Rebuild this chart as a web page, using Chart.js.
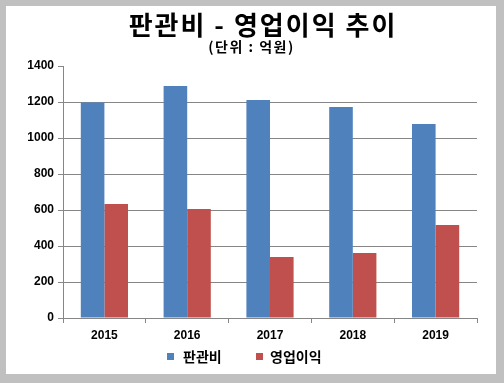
<!DOCTYPE html>
<html><head><meta charset="utf-8">
<script src="https://cdn.jsdelivr.net/npm/chart.js@4/dist/chart.umd.min.js"></script>
<style>
html,body{margin:0;padding:0;background:#c0c0c0;width:504px;height:383px;overflow:hidden;}
#wrap{position:absolute;left:6px;top:6px;width:490px;height:368px;background:#fff;}
</style></head>
<body>
<div id="wrap"><canvas id="c" width="490" height="368"></canvas></div>
<script>
const titleText = '판관비 - 영업이익 추이';
const subtitleText = '(단위 : 억원)';
const years = ['2015', '2016', '2017', '2018', '2019'];
const seriesNames = ['판관비', '영업이익'];
const sgaValues = [1197, 1289, 1211, 1172, 1078];
const opProfitValues = [633, 606, 339, 361, 517];
const yTicks = [0, 200, 400, 600, 800, 1000, 1200, 1400];

const colors = ['#4F81BD', '#C0504D'];
const KFONT = '"Noto Sans CJK KR", "Noto Sans", sans-serif';
const NFONT = '"Liberation Sans", Arial, sans-serif';

const textPlugin = {
  id: 'textPlugin',
  afterDraw(chart) {
    const ctx = chart.ctx;
    ctx.save();
    ctx.fillStyle = '#000';
    ctx.textAlign = 'center';
    ctx.textBaseline = 'middle';
    ctx.letterSpacing = '2px';
    ctx.font = 'bold 26px ' + KFONT;
    ctx.fillText(titleText, 257, 19);
    ctx.letterSpacing = '1.5px';
    ctx.font = 'bold 14px ' + KFONT;
    ctx.fillText(subtitleText, 245.5, 41);
    // legend
    ctx.letterSpacing = '0px';
    const items = [{x: 161, tx: 177}, {x: 250, tx: 264}];
    ctx.textAlign = 'left';
    ctx.font = 'bold 14px ' + KFONT;
    items.forEach((it, i) => {
      ctx.fillStyle = colors[i];
      ctx.fillRect(it.x, 347, 7, 7);
      ctx.fillStyle = '#000';
      ctx.fillText(seriesNames[i], it.tx, 351);
    });
    ctx.restore();
  }
};

new Chart(document.getElementById('c'), {
  type: 'bar',
  data: {
    labels: years,
    datasets: [
      {label: seriesNames[0], data: sgaValues, backgroundColor: colors[0], borderWidth: 0},
      {label: seriesNames[1], data: opProfitValues, backgroundColor: colors[1], borderWidth: 0}
    ]
  },
  options: {
    responsive: false,
    animation: false,
    devicePixelRatio: 1,
    layout: {padding: {left: 0, right: 19, top: 60, bottom: 30}},
    plugins: {legend: {display: false}, title: {display: false}, tooltip: {enabled: false}},
    datasets: {bar: {categoryPercentage: 0.57, barPercentage: 1}},
    scales: {
      x: {
        offset: true,
        grid: {offset: true, drawOnChartArea: false, drawTicks: true, tickLength: 5, color: '#868686'},
        border: {color: '#868686', width: 1},
        ticks: {color: '#000', font: {family: NFONT, size: 12, weight: 'bold'}, padding: 5, maxRotation: 0},
        afterFit(s) { s.height = 26; }
      },
      y: {
        min: 0, max: 1400,
        afterBuildTicks(s) { s.ticks = yTicks.map(v => ({value: v})); },
        grid: {
          color: c => (c.tick && c.tick.value === 1400) ? 'rgba(0,0,0,0)' : '#868686',
          tickColor: '#868686', tickLength: 5, drawTicks: true
        },
        border: {color: '#868686', width: 1},
        ticks: {color: '#000', font: {family: NFONT, size: 12, weight: 'bold'}, padding: 4,
                callback: v => String(v)},
        afterFit(s) { s.width = 57; }
      }
    }
  },
  plugins: [textPlugin]
});
</script>
</body></html>
